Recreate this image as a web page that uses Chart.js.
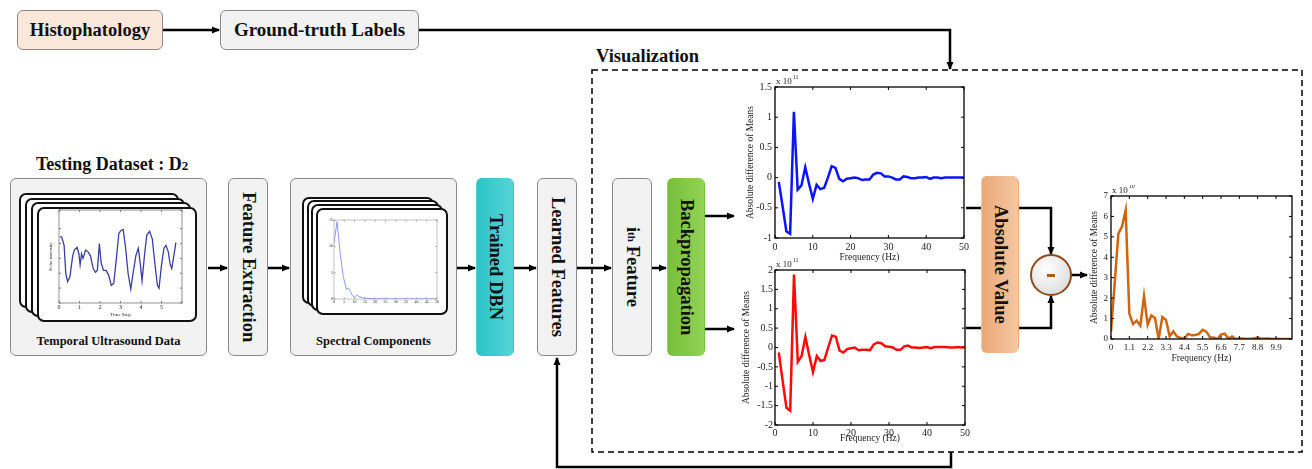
<!DOCTYPE html>
<html>
<head>
<meta charset="utf-8">
<script src="https://cdn.jsdelivr.net/npm/chart.js@4.4.1/dist/chart.umd.min.js"></script>
<style>
  body { margin: 0; background: #fff; }
  #stage { position: relative; width: 1312px; height: 469px; overflow: hidden; font-family: 'Liberation Serif', 'Times New Roman', serif; color: #111; }
  #wires { position: absolute; left: 0; top: 0; z-index: 0; }
  .box { position: absolute; box-sizing: border-box; border: 1px solid #8a8a8a; border-radius: 6px; background: #f2f2f2;
         display: flex; align-items: center; justify-content: center; font-weight: bold; z-index: 1; }
  .vert { writing-mode: vertical-rl; font-size: 18.5px; }
  .card { position: absolute; box-sizing: border-box; border: 2px solid #111; border-radius: 7px; background: #fff; z-index: 2; }
  .lbl { position: absolute; font-weight: bold; z-index: 3; white-space: nowrap; }
  canvas { position: absolute; z-index: 4; }
</style>
</head>
<body>
<div id="stage">
  <svg id="wires" width="1312" height="469">
    <defs>
      <marker id="ah" markerWidth="8" markerHeight="8" refX="7" refY="4" orient="auto" markerUnits="userSpaceOnUse">
        <path d="M0,0.5 L8,4 L0,7.5 Z" fill="#000"/>
      </marker>
    </defs>
    <rect x="592" y="70" width="710" height="382" fill="none" stroke="#000" stroke-width="1.5" stroke-dasharray="6,4"/>
    <g fill="none" stroke="#000" stroke-width="2.5">
      <line x1="163" y1="30" x2="219" y2="30" marker-end="url(#ah)"/>
      <polyline points="419,30 950,30 950,69" marker-end="url(#ah)"/>
      <line x1="208" y1="268" x2="227" y2="268" marker-end="url(#ah)"/>
      <line x1="268" y1="268" x2="289" y2="268" marker-end="url(#ah)"/>
      <line x1="457" y1="268" x2="475" y2="268" marker-end="url(#ah)"/>
      <line x1="514" y1="268" x2="536" y2="268" marker-end="url(#ah)"/>
      <line x1="577" y1="268" x2="611" y2="268" marker-end="url(#ah)"/>
      <line x1="652" y1="268" x2="666" y2="268" marker-end="url(#ah)"/>
      <line x1="705" y1="216" x2="734" y2="216" marker-end="url(#ah)"/>
      <line x1="705" y1="329" x2="734" y2="329" marker-end="url(#ah)"/>
      <polyline points="966,208 1051,208 1051,254" marker-end="url(#ah)"/>
      <polyline points="966,328 1051,328 1051,296" marker-end="url(#ah)"/>
      <line x1="1071" y1="275" x2="1087" y2="275" marker-end="url(#ah)"/>
      <polyline points="951,452 951,467 557,467 557,358" marker-end="url(#ah)"/>
    </g>
    <defs>
      <radialGradient id="cg" cx="0.4" cy="0.35" r="0.7">
        <stop offset="0" stop-color="#ffffff"/>
        <stop offset="1" stop-color="#dcdcdc"/>
      </radialGradient>
    </defs>
  </svg>

  <div class="box" style="left:17px;top:10px;width:146px;height:40px;background:#fbe8da;font-size:18.5px;">Histophatology</div>
  <div class="box" style="left:220px;top:10px;width:199px;height:40px;font-size:19px;">Ground-truth Labels</div>

  <div class="lbl" style="left:36px;top:153px;font-size:18px;line-height:22px;">Testing Dataset : D<span style="font-size:13px">2</span></div>
  <div class="lbl" style="left:596px;top:45px;font-size:18.5px;line-height:22px;">Visualization</div>

  <div class="box" style="left:10px;top:178px;width:197px;height:178px;"></div>
  <div class="card" style="left:19px;top:193px;width:160px;height:115px;"></div>
  <div class="card" style="left:25px;top:198px;width:160px;height:115px;"></div>
  <div class="card" style="left:31px;top:202px;width:160px;height:115px;"></div>
  <div class="card" style="left:37px;top:207px;width:160px;height:115px;"></div>
  <div class="lbl" style="left:10px;width:197px;top:334px;font-size:12.5px;text-align:center;">Temporal Ultrasound Data</div>

  <div class="box vert" style="left:228px;top:178px;width:40px;height:178px;">Feature Extraction</div>

  <div class="box" style="left:290px;top:178px;width:167px;height:178px;"></div>
  <div class="card" style="left:302px;top:197px;width:132px;height:107px;"></div>
  <div class="card" style="left:307px;top:200px;width:132px;height:107px;"></div>
  <div class="card" style="left:311px;top:204px;width:132px;height:107px;"></div>
  <div class="card" style="left:316px;top:208px;width:132px;height:107px;"></div>
  <div class="lbl" style="left:290px;width:167px;top:334px;font-size:12.5px;text-align:center;">Spectral Components</div>

  <div class="box vert" style="left:476px;top:178px;width:38px;height:178px;border-color:transparent;background:linear-gradient(90deg,#2cc3c7,#58d4d8);">Trained DBN</div>
  <div class="box vert" style="left:537px;top:178px;width:40px;height:178px;">Learned Features</div>
  <div class="box vert" style="left:612px;top:178px;width:40px;height:178px;">i<sup style="font-size:11px">th</sup>&nbsp;Feature</div>
  <div class="box vert" style="left:667px;top:178px;width:38px;height:178px;border-color:transparent;background:linear-gradient(90deg,#77c03c,#93d254);">Backpropagation</div>
  <div class="box vert" style="left:981px;top:176px;width:38px;height:177px;border-color:transparent;background:linear-gradient(90deg,#eaa877,#f5c7a3);">Absolute Value</div>

  <svg style="position:absolute;left:1029px;top:253px;z-index:3" width="44" height="44">
    <circle cx="22" cy="22" r="20" fill="url(#cg)" stroke="#8b4a1a" stroke-width="2"/>
    <rect x="18" y="21" width="8" height="3" fill="#b35a12"/>
  </svg>

  <canvas id="echoChart" width="138" height="114" style="left:48px;top:204px;"></canvas>
  <canvas id="specChart" width="119" height="91" style="left:322px;top:214px;"></canvas>
  <canvas id="blueChart" width="227" height="190" style="left:745px;top:75px;"></canvas>
  <canvas id="redChart" width="231" height="188" style="left:741px;top:258px;"></canvas>
  <canvas id="absChart" width="208" height="181" style="left:1089px;top:185px;"></canvas>
</div>

<script>
// frequency bins shared by the two backpropagation plots (Hz)
const freqHz = [1,2,3,4,5,6,7,8,9,10,11,12,13,14,15,16,17,18,19,20,21,22,23,24,25,
  26,27,28,29,30,31,32,33,34,35,36,37,38,39,40,41,42,43,44,45,46,47,48,49,50];

// absolute difference of means, x 10^11
const blueDiff = [-0.07,-0.47,-0.89,-0.93,1.09,-0.2,-0.13,0.17,-0.1,-0.35,
  -0.12,-0.19,-0.17,0.0,0.19,0.16,-0.02,-0.06,-0.02,-0.01,
  0.0,-0.01,-0.04,-0.03,-0.03,0.05,0.08,0.07,0.02,0.02,
  0.0,-0.03,-0.03,0.02,0.01,-0.01,-0.01,0.0,0.0,0.01,
  -0.02,0.0,0.0,-0.01,0.0,0.0,0.0,0.0,0.0,0.0];
const redDiff = [-0.13,-0.85,-1.55,-1.63,1.88,-0.37,-0.22,0.27,-0.2,-0.63,
  -0.22,-0.35,-0.32,0.0,0.31,0.28,-0.08,-0.13,-0.04,-0.02,
  0.0,-0.07,-0.06,-0.06,-0.07,0.08,0.13,0.11,0.03,0.02,
  0.0,-0.06,-0.06,0.03,0.05,0.0,0.0,-0.01,0.0,0.01,
  -0.02,0.01,0.01,0.01,0.01,0.0,0.0,0.01,0.0,0.01];

// result after absolute value / subtraction, x 10^10
const absFreq = [0,0.22,0.44,0.66,0.88,1.1,1.32,1.54,1.76,1.98,2.2,2.42,2.64,2.86,3.08,3.3,3.52,3.74,3.96,4.18,
  4.4,4.62,4.84,5.06,5.28,5.5,5.72,5.94,6.16,6.38,6.6,6.82,7.04,7.26,7.48,7.7,7.92,8.14,8.36,8.58,
  8.8,9.02,9.24,9.46,9.68,9.9,10.12,10.34,10.56,10.78];
const absDiff = [0.37,2.7,5.15,5.5,6.3,1.25,0.73,0.9,0.65,2.1,
  0.7,1.15,1.03,0.0,1.07,0.93,0.13,0.37,0.12,0.05,
  0.0,0.25,0.18,0.2,0.25,0.45,0.36,0.08,0.07,0.0,
  0.22,0.26,0.02,0.12,0.0,0.03,0.03,0.0,0.01,0.02,
  0.08,0.01,0.02,0.02,0.0,0.01,0.0,0.0,0.0,0.0];
const absTicks = [0,1.1,2.2,3.3,4.4,5.5,6.6,7.7,8.8,9.9];

// thumbnail: one temporal ultrasound signal
const echoTime = [0.05,0.13,0.25,0.33,0.42,0.53,0.67,0.75,0.88,0.97,1.03,1.1,1.17,1.3,1.42,1.53,1.67,1.78,1.87,1.97,
  2.05,2.17,2.3,2.42,2.55,2.67,2.8,2.92,3.03,3.13,3.25,3.37,3.5,3.62,3.75,3.87,3.97,4.05,4.17,4.28,
  4.42,4.55,4.67,4.8,4.88,5.0,5.12,5.22,5.33,5.42,5.5,5.62,5.7];
const echoLevel = [0.71,0.71,0.62,0.32,0.23,0.28,0.51,0.57,0.6,0.53,0.41,0.53,0.48,0.57,0.55,0.51,0.37,0.33,0.35,0.64,
  0.44,0.35,0.35,0.3,0.19,0.21,0.48,0.75,0.78,0.79,0.59,0.32,0.15,0.33,0.51,0.59,0.41,0.24,0.51,0.73,
  0.77,0.69,0.44,0.19,0.16,0.41,0.59,0.62,0.55,0.42,0.37,0.53,0.65];

// thumbnail: spectral components
const specFreq = [0,1.5,3,4.5,6,7,8,9,10,11,12,14,17,20,25,30,35,40,45,50];
const specPower = [10.6,14.7,8.7,4.3,1.8,2.1,1.4,0.6,0.4,0.75,0.5,0.2,0.1,0.05,0.03,0.03,0.03,0.03,0.03,0.03];

Chart.defaults.font.family = "'Liberation Serif', 'Times New Roman', serif";
Chart.defaults.color = '#222';

// matlab-ish frame: box round the plot, inward ticks on all four sides, "x 10^n" note
const boxPlugin = {
  id: 'matlabBox',
  afterDraw(chart, args, opts) {
    const { ctx, chartArea: a, scales } = chart;
    ctx.save();
    ctx.strokeStyle = opts.color || '#000';
    ctx.lineWidth = opts.width || 1.3;
    ctx.strokeRect(a.left, a.top, a.right - a.left, a.bottom - a.top);
    const t = opts.tick || 3;
    ctx.lineWidth = 1;
    ctx.beginPath();
    scales.x.ticks.forEach(tk => {
      const px = scales.x.getPixelForValue(tk.value);
      ctx.moveTo(px, a.bottom); ctx.lineTo(px, a.bottom - t);
      ctx.moveTo(px, a.top); ctx.lineTo(px, a.top + t);
    });
    scales.y.ticks.forEach(tk => {
      const py = scales.y.getPixelForValue(tk.value);
      ctx.moveTo(a.left, py); ctx.lineTo(a.left + t, py);
      ctx.moveTo(a.right, py); ctx.lineTo(a.right - t, py);
    });
    ctx.stroke();
    if (opts.exp) {
      ctx.fillStyle = '#222';
      ctx.textBaseline = 'alphabetic';
      ctx.font = "9px 'Liberation Serif'";
      ctx.fillText('x 10', a.left + 1, a.top - 3);
      const w = ctx.measureText('x 10').width;
      ctx.font = "6px 'Liberation Serif'";
      ctx.fillText(opts.exp, a.left + 2 + w, a.top - 8);
    }
    ctx.restore();
  }
};
Chart.register(boxPlugin);

function lineOpts(p) {
  return {
    responsive: false,
    animation: false,
    devicePixelRatio: 1,
    layout: { padding: { top: p.pt, right: p.pr, left: 0, bottom: 0 } },
    plugins: {
      legend: { display: false },
      tooltip: { enabled: false },
      matlabBox: { exp: p.exp, color: p.frame, width: p.frameW, tick: p.tick }
    },
    scales: {
      x: {
        type: 'linear', min: p.xmin, max: p.xmax,
        grid: { display: false, drawTicks: false }, border: { display: false },
        ticks: { stepSize: p.xstep, autoSkip: false, maxRotation: 0, padding: p.tpad, font: { size: p.fs },
                 callback: p.xcb || (v => v) },
        afterBuildTicks: p.xticks ? (s => { s.ticks = p.xticks.map(v => ({ value: v })); }) : undefined,
        title: { display: !!p.xtitle, text: p.xtitle, font: { size: p.tfs }, padding: { top: 0, bottom: p.ttpad } },
        afterFit: s => { s.height = p.xh; }
      },
      y: {
        min: p.ymin, max: p.ymax,
        grid: { display: false, drawTicks: false }, border: { display: false },
        ticks: { stepSize: p.ystep, autoSkip: false, padding: p.tpad, font: { size: p.fs },
                 callback: p.ycb || (v => v) },
        title: { display: !!p.ytitle, text: p.ytitle, font: { size: p.tfs }, padding: { top: 0, bottom: 0 } },
        afterFit: s => { s.width = p.yw; }
      }
    }
  };
}

function series(xs, ys, color, w) {
  return {
    datasets: [{
      data: xs.map((x, i) => ({ x: x, y: ys[i] })),
      borderColor: color, borderWidth: w, pointRadius: 0, tension: 0, fill: false
    }]
  };
}

// --- top-right branch: backprop on first class ---
new Chart(document.getElementById('blueChart'), {
  type: 'line',
  data: series(freqHz, blueDiff, '#0a14ff', 2.5),
  options: lineOpts({ pt: 12, pr: 6, xh: 27, yw: 30, xmin: 0, xmax: 50, xstep: 10, ymin: -1, ymax: 1.5, ystep: 0.5,
    fs: 10, tfs: 9.5, tpad: 3, ttpad: 2, xtitle: 'Frequency (Hz)', ytitle: 'Absolute difference of Means', exp: '11' })
});

// --- lower branch: backprop on second class ---
new Chart(document.getElementById('redChart'), {
  type: 'line',
  data: series(freqHz, redDiff, '#ff0a0a', 2.5),
  options: lineOpts({ pt: 12, pr: 6, xh: 21, yw: 34, xmin: 0, xmax: 50, xstep: 10, ymin: -2, ymax: 2, ystep: 0.5,
    fs: 10, tfs: 9.5, tpad: 2, ttpad: 2, xtitle: 'Frequency (Hz)', ytitle: 'Absolute difference of Means', exp: '11' })
});

// --- output of the subtraction ---
new Chart(document.getElementById('absChart'), {
  type: 'line',
  data: series(absFreq, absDiff, '#cc6612', 2.5),
  options: lineOpts({ pt: 11, pr: 5, xh: 27, yw: 22, xmin: 0, xmax: 10.86, xticks: absTicks, ymin: 0, ymax: 7, ystep: 1,
    fs: 9, tfs: 9.5, tpad: 3, ttpad: 2, xtitle: 'Frequency (Hz)', ytitle: 'Absolute difference of Means', exp: '10',
    xcb: v => (v === 0 ? '0' : v.toFixed(1)) })
});

// --- thumbnails ---
new Chart(document.getElementById('echoChart'), {
  type: 'line',
  data: series(echoTime, echoLevel, '#3b3f9e', 1.3),
  options: lineOpts({ pt: 6, pr: 4, xh: 15, yw: 11, xmin: 0, xmax: 6, xstep: 1, ymin: 0, ymax: 1, ystep: 0.16,
    fs: 6, tfs: 5, tpad: 1, ttpad: 0, xtitle: 'Time Step', ytitle: 'Echo intensity', frame: '#777', frameW: 0.8, tick: 2,
    xcb: v => (v < 6 ? v : ''), ycb: () => '' })
});

new Chart(document.getElementById('specChart'), {
  type: 'line',
  data: series(specFreq, specPower, '#8c9cf2', 1),
  options: lineOpts({ pt: 6, pr: 4, xh: 6, yw: 12, xmin: 0, xmax: 50, xstep: 5, ymin: 0, ymax: 15, ystep: 5,
    fs: 4, tfs: 4, tpad: 1, ttpad: 0, frame: '#999', frameW: 0.6, tick: 1.5 })
});
</script>
</body>
</html>
